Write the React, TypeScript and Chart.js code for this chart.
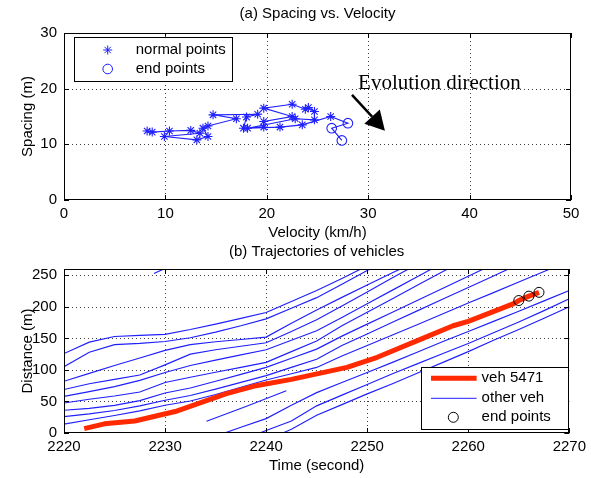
import React, { useEffect, useRef } from 'react';
import { Chart, registerables } from 'chart.js';

Chart.register(...registerables);

const FONT = '"Liberation Sans", Arial, Helvetica, sans-serif';
const SERIF = '"Liberation Serif", "Times New Roman", serif';
const BLUE = '#1f1fff';
const RED = '#ff2a00';

// ---------- (a) Spacing vs. Velocity ----------
const velocityTicks = [0, 10, 20, 30, 40, 50];
const spacingTicks = [0, 10, 20, 30];
const normalVelocity = [8.2, 8.7, 10.4, 12.5, 13.4, 9.9, 13.1, 14.2, 13.7, 14.2, 17.0, 14.7, 19.1, 18.0, 17.7, 19.7, 19.7, 22.5, 19.7, 22.5, 23.8, 24.1, 24.7, 24.7, 22.8, 18.1, 21.3, 23.5, 26.3];
const normalSpacing = [12.4, 12.2, 12.4, 12.5, 12.0, 11.4, 10.8, 11.4, 12.9, 13.3, 14.6, 15.3, 15.4, 14.9, 12.9, 13.1, 14.1, 15.0, 16.5, 17.2, 16.3, 16.6, 15.9, 14.4, 14.6, 12.9, 13.1, 13.5, 15.0];
const endVelocity = [28.0, 26.4, 27.4];
const endSpacing = [13.8, 12.9, 10.7];
const arrowFrom = [28.4, 18.9];
const arrowTo = [31.65, 12.46];
const annotationAt = [29, 20];
const annotationText = 'Evolution direction';

// ---------- (b) Trajectories of vehicles ----------
const timeTicks = [2220, 2230, 2240, 2250, 2260, 2270];
const distanceTicks = [0, 50, 100, 150, 200, 250];
const trajTimes = [2220, 2222.5, 2225, 2227.5, 2230, 2232.5, 2235, 2237.5, 2240, 2242.5, 2245, 2247.5, 2250, 2252.5, 2255, 2257.5, 2260, 2262.5, 2265, 2267.5, 2270];
const otherVeh01 = [126, 144, 153, 154.8, 156.4, 164, 172.7, 181.7, 191, 208.5, 226, 245, 265, null, null, null, null, null, null, null, null];
const otherVeh02 = [105, 128, 140, 142, 145, 151, 160, 170, 181, 197.8, 214.6, 236, 257.5, 279, null, null, null, null, null, null, null];
const otherVeh03 = [82, 94.5, 107, 119, 131, 140, 144.6, 148.3, 152, 174, 195, 215, 234.7, 254, 273, null, null, null, null, null, null];
const otherVeh04 = [69, 78, 85, 92, 108, 125, 132, 137.5, 143, 161, 179.5, 201.5, 223.6, 246, 268, null, null, null, null, null, null];
const otherVeh05 = [58, 65.5, 73.5, 83.5, 96, 107, 115.6, 123.8, 132, 147, 162, 183, 205, 226.5, 248, 270, null, null, null, null, null];
const otherVeh06 = [47.5, 53.5, 58.7, 65, 80, 88.3, 96.3, 104, 112, 129, 146, 170, 191.5, 213, 234.5, 256, 277.5, null, null, null, null];
const otherVeh07 = [36, 39, 43.7, 51.4, 63.5, 71.4, 82, 93, 104, 118.5, 133, 153.6, 172.6, 191.6, 210.6, 229.6, 248.6, 267.6, null, null, null];
const otherVeh08 = [26, 30.4, 35.7, 43, 52, 59.5, 69.6, 80.3, 91, 104, 117, 138.7, 157, 175.5, 194, 212.4, 230.8, 249, 267.6, null, null];
const otherVeh09 = [14, 21, 27.7, 35, 44, 50.7, 61, 72.6, 84, 94, 104, 122, 138.7, 155.5, 172, 189, 206, 222.5, 239.5, 256, 273];
const otherVeh10 = [null, null, null, null, null, null, -5, 9, 22.8, 44, 64, 80, 96, 112, 128.5, 145, 161, 177, 193, 209.5, 226];
const otherVeh11 = [null, null, null, null, null, null, null, -12, 4, 19, 43, 60, 77, 94, 110, 126, 142, 159, 176, 194, 213];
const otherVeh12 = [null, null, null, null, null, null, null, null, -12, 6, 28, 45, 62, 78, 95, 112, 129, 147, 164, 182, 200];
const otherVehicles = [otherVeh01, otherVeh02, otherVeh03, otherVeh04, otherVeh05, otherVeh06, otherVeh07, otherVeh08, otherVeh09, otherVeh10, otherVeh11, otherVeh12];
const stubTime = [2228.9, 2230.3];
const stubDist = [253, 263];
const segmentTime = [2234.1, 2238, 2242];
const segmentDist = [18.5, 42, 67];
const veh5471Time = [2222, 2224, 2227, 2231, 2236, 2239, 2242.5, 2248, 2251, 2255.5, 2258.5, 2260, 2264.5, 2265, 2266, 2267];
const veh5471Dist = [7, 14.5, 19, 34, 62, 75, 85, 104, 120, 150, 170, 177, 205, 210, 217, 223];
const endTime = [2265, 2266, 2267];
const endDist = [210, 217, 223];

const zip = (xs: number[], ys: (number | null)[]) => xs.map((x, i) => ({ x, y: ys[i] }));

function setTicks(values: number[]) {
  return (scale: any) => {
    scale.ticks = values.map((v) => ({ value: v }));
  };
}

function matlabAxes(id: string) {
  return {
    id,
    beforeDatasetsDraw(chart: any) {
      const { ctx, chartArea: a, scales } = chart;
      const x = scales.x;
      const y = scales.y;
      ctx.save();
      ctx.strokeStyle = 'rgba(0,0,0,0.75)';
      ctx.lineWidth = 1;
      ctx.setLineDash([1, 3]);
      ctx.beginPath();
      for (const t of x.ticks) {
        const px = Math.round(x.getPixelForValue(t.value)) + 0.5;
        if (px <= a.left + 1 || px >= a.right - 1) continue;
        ctx.moveTo(px, a.top);
        ctx.lineTo(px, a.bottom);
      }
      for (const t of y.ticks) {
        const py = Math.round(y.getPixelForValue(t.value)) + 0.5;
        if (py <= a.top + 1 || py >= a.bottom - 1) continue;
        ctx.moveTo(a.left, py);
        ctx.lineTo(a.right, py);
      }
      ctx.stroke();
      ctx.restore();
    },
    afterDatasetsDraw(chart: any) {
      const { ctx, chartArea: a, scales } = chart;
      const x = scales.x;
      const y = scales.y;
      const L = 5;
      ctx.save();
      ctx.strokeStyle = '#000';
      ctx.lineWidth = 1;
      ctx.setLineDash([]);
      ctx.beginPath();
      for (const t of x.ticks) {
        const px = Math.round(x.getPixelForValue(t.value)) + 0.5;
        ctx.moveTo(px, a.bottom);
        ctx.lineTo(px, a.bottom - L);
        ctx.moveTo(px, a.top);
        ctx.lineTo(px, a.top + L);
      }
      for (const t of y.ticks) {
        const py = Math.round(y.getPixelForValue(t.value)) + 0.5;
        ctx.moveTo(a.left, py);
        ctx.lineTo(a.left + L, py);
        ctx.moveTo(a.right, py);
        ctx.lineTo(a.right - L, py);
      }
      ctx.stroke();
      ctx.strokeRect(Math.round(a.left) + 0.5, Math.round(a.top) + 0.5, Math.round(a.right - a.left) - 1, Math.round(a.bottom - a.top) - 1);
      ctx.restore();
    },
  };
}

function subplotTitle(id: string, text: string, offset: number) {
  return {
    id,
    afterDraw(chart: any) {
      const { ctx, chartArea: a } = chart;
      ctx.save();
      ctx.fillStyle = '#000';
      ctx.font = `15px ${FONT}`;
      ctx.textAlign = 'center';
      ctx.textBaseline = 'middle';
      ctx.fillText(text, (a.left + a.right) / 2, a.top - offset);
      ctx.restore();
    },
  };
}

function drawStar(ctx: CanvasRenderingContext2D, cx: number, cy: number, r: number) {
  ctx.beginPath();
  for (let k = 0; k < 4; k++) {
    const ang = (k * Math.PI) / 4;
    ctx.moveTo(cx - r * Math.cos(ang), cy - r * Math.sin(ang));
    ctx.lineTo(cx + r * Math.cos(ang), cy + r * Math.sin(ang));
  }
  ctx.stroke();
}

const topDecor = {
  id: 'topDecor',
  afterDraw(chart: any) {
    const { ctx, chartArea: a, scales } = chart;
    const x = scales.x;
    const y = scales.y;
    ctx.save();
    ctx.fillStyle = '#000';
    ctx.font = `21px ${SERIF}`;
    ctx.textAlign = 'left';
    ctx.textBaseline = 'alphabetic';
    ctx.fillText(annotationText, x.getPixelForValue(annotationAt[0]), y.getPixelForValue(annotationAt[1]));
    const x0 = x.getPixelForValue(arrowFrom[0]);
    const y0 = y.getPixelForValue(arrowFrom[1]);
    const x1 = x.getPixelForValue(arrowTo[0]);
    const y1 = y.getPixelForValue(arrowTo[1]);
    const dx = x1 - x0;
    const dy = y1 - y0;
    const len = Math.hypot(dx, dy);
    const ux = dx / len;
    const uy = dy / len;
    const headL = 19;
    const headW = 10.5;
    const bx = x1 - ux * headL;
    const by = y1 - uy * headL;
    ctx.strokeStyle = '#000';
    ctx.lineWidth = 2.5;
    ctx.beginPath();
    ctx.moveTo(x0, y0);
    ctx.lineTo(bx, by);
    ctx.stroke();
    ctx.beginPath();
    ctx.moveTo(x1, y1);
    ctx.lineTo(bx - uy * headW, by + ux * headW);
    ctx.lineTo(bx + uy * headW, by - ux * headW);
    ctx.closePath();
    ctx.fill();
    const lx = a.left + 10.3;
    const ly = a.top + 3.7;
    const lw = 158.4;
    const lh = 44;
    ctx.fillStyle = '#fff';
    ctx.fillRect(lx, ly, lw, lh);
    ctx.strokeStyle = '#000';
    ctx.lineWidth = 1;
    ctx.strokeRect(Math.round(lx) + 0.5, Math.round(ly) + 0.5, Math.round(lw), Math.round(lh));
    ctx.strokeStyle = BLUE;
    drawStar(ctx, lx + 33.4, ly + 13.3, 4.5);
    ctx.beginPath();
    ctx.arc(lx + 33.4, ly + 32.3, 4.8, 0, Math.PI * 2);
    ctx.stroke();
    ctx.fillStyle = '#000';
    ctx.font = `15px ${FONT}`;
    ctx.textBaseline = 'middle';
    ctx.fillText('normal points', lx + 61.4, ly + 13.3);
    ctx.fillText('end points', lx + 61.4, ly + 32.3);
    ctx.restore();
  },
};

const bottomLegend = {
  id: 'bottomLegend',
  afterDraw(chart: any) {
    const { ctx, chartArea: a } = chart;
    const lx = a.right - 148.3;
    const ly = a.bottom - 65.7;
    const lw = 147.3;
    const lh = 62;
    ctx.save();
    ctx.fillStyle = '#fff';
    ctx.fillRect(lx, ly, lw, lh);
    ctx.strokeStyle = '#000';
    ctx.lineWidth = 1;
    ctx.strokeRect(Math.round(lx) + 0.5, Math.round(ly) + 0.5, Math.round(lw), Math.round(lh));
    ctx.strokeStyle = RED;
    ctx.lineWidth = 5;
    ctx.beginPath();
    ctx.moveTo(lx + 10, ly + 11);
    ctx.lineTo(lx + 55.6, ly + 11);
    ctx.stroke();
    ctx.strokeStyle = BLUE;
    ctx.lineWidth = 1;
    ctx.beginPath();
    ctx.moveTo(lx + 10, ly + 31);
    ctx.lineTo(lx + 55.6, ly + 31);
    ctx.stroke();
    ctx.strokeStyle = '#000';
    ctx.beginPath();
    ctx.arc(lx + 32.3, ly + 50, 5, 0, Math.PI * 2);
    ctx.stroke();
    ctx.fillStyle = '#000';
    ctx.font = `15px ${FONT}`;
    ctx.textAlign = 'left';
    ctx.textBaseline = 'middle';
    ctx.fillText('veh 5471', lx + 60.6, ly + 11);
    ctx.fillText('other veh', lx + 60.6, ly + 31);
    ctx.fillText('end points', lx + 60.6, ly + 50);
    ctx.restore();
  },
};

function axisOptions(ticks: number[], min: number, max: number, title: string, horizontal: boolean, size: number, titlePad: any) {
  return {
    type: 'linear',
    min,
    max,
    afterBuildTicks: setTicks(ticks),
    afterFit: (s: any) => {
      if (horizontal) s.height = size;
      else s.width = size;
    },
    grid: { display: false, drawTicks: false },
    border: { display: false },
    ticks: {
      color: '#000',
      font: { family: FONT, size: 15 },
      padding: horizontal ? 5 : 7,
      maxRotation: 0,
      autoSkip: false,
      includeBounds: false,
      callback: (v: any) => String(v),
    },
    title: {
      display: true,
      text: title,
      color: '#000',
      font: { family: FONT, size: 15, lineHeight: 1 },
      padding: titlePad,
    },
  };
}

export default function App() {
  const topRef = useRef<HTMLCanvasElement>(null);
  const bottomRef = useRef<HTMLCanvasElement>(null);

  useEffect(() => {
    Chart.defaults.font.family = FONT;
    Chart.defaults.color = '#000';
    const normalData = zip(normalVelocity, normalSpacing);
    const last = normalData[normalData.length - 1];
    const endData = [last, ...zip(endVelocity, endSpacing)];

    const top = new Chart(topRef.current as HTMLCanvasElement, {
      type: 'scatter',
      data: {
        datasets: [
          {
            label: 'normal points',
            data: normalData,
            showLine: true,
            borderColor: BLUE,
            borderWidth: 1.1,
            pointStyle: 'star',
            pointRadius: 4.5,
            pointBorderColor: BLUE,
            pointBorderWidth: 1.1,
            pointBackgroundColor: BLUE,
            tension: 0,
          },
          {
            label: 'end points',
            data: endData,
            showLine: true,
            borderColor: BLUE,
            borderWidth: 1.1,
            pointStyle: 'circle',
            pointRadius: (c: any) => (c.dataIndex === 0 ? 0 : 4.8),
            pointBorderColor: BLUE,
            pointBorderWidth: 1.1,
            pointBackgroundColor: 'rgba(0,0,0,0)',
            tension: 0,
          },
        ] as any,
      },
      options: {
        animation: false,
        responsive: false,
        events: [],
        layout: { padding: { top: 33, right: 20, bottom: 0, left: 0 } },
        plugins: { legend: { display: false }, tooltip: { enabled: false }, title: { display: false } },
        scales: {
          x: axisOptions(velocityTicks, 0, 50, 'Velocity (km/h)', true, 40, { top: 0, bottom: 0 }),
          y: axisOptions(spacingTicks, 0, 30, 'Spacing (m)', false, 64, { top: 20, bottom: 0 }),
        } as any,
      },
      plugins: [matlabAxes('axesA'), subplotTitle('titleA', '(a) Spacing vs. Velocity', 19), topDecor],
    });

    const blueSets = otherVehicles.map((d, i) => ({
      label: i === 0 ? 'other veh' : '',
      data: zip(trajTimes, d),
      showLine: true,
      borderColor: BLUE,
      borderWidth: 1.15,
      pointRadius: 0,
      tension: 0,
      spanGaps: false,
      order: 3,
    }));
    const extraSets = [zip(stubTime, stubDist), zip(segmentTime, segmentDist)].map((d) => ({
      label: '',
      data: d,
      showLine: true,
      borderColor: BLUE,
      borderWidth: 1.15,
      pointRadius: 0,
      tension: 0,
      order: 3,
    }));

    const bottom = new Chart(bottomRef.current as HTMLCanvasElement, {
      type: 'scatter',
      data: {
        datasets: [
          {
            label: 'end points',
            data: zip(endTime, endDist),
            showLine: false,
            pointStyle: 'circle',
            pointRadius: 5,
            pointBorderColor: '#000',
            pointBorderWidth: 1,
            pointBackgroundColor: 'rgba(0,0,0,0)',
            order: 1,
          },
          {
            label: 'veh 5471',
            data: zip(veh5471Time, veh5471Dist),
            showLine: true,
            borderColor: RED,
            borderWidth: 5,
            borderJoinStyle: 'round',
            pointRadius: 0,
            tension: 0,
            order: 2,
          },
          ...blueSets,
          ...extraSets,
        ] as any,
      },
      options: {
        animation: false,
        responsive: false,
        events: [],
        layout: { padding: { top: 29, right: 20, bottom: 0, left: 0 } },
        plugins: { legend: { display: false }, tooltip: { enabled: false }, title: { display: false } },
        scales: {
          x: axisOptions(timeTicks, 2220, 2270, 'Time (second)', true, 45, { top: 0, bottom: 4.5 }),
          y: axisOptions(distanceTicks, 0, 260, 'Distance (m)', false, 64, { top: 20, bottom: 0 }),
        } as any,
      },
      plugins: [matlabAxes('axesB'), subplotTitle('titleB', '(b) Trajectories of vehicles', 17), bottomLegend],
    });

    return () => {
      top.destroy();
      bottom.destroy();
    };
  }, []);

  return (
    <div style={{ position: 'absolute', left: 0, top: 0, width: 591, height: 478, background: '#fff' }}>
      <canvas ref={topRef} width={591} height={240} style={{ position: 'absolute', left: 0, top: 0, width: 591, height: 240 }} />
      <canvas ref={bottomRef} width={591} height={238} style={{ position: 'absolute', left: 0, top: 240, width: 591, height: 238 }} />
    </div>
  );
}
